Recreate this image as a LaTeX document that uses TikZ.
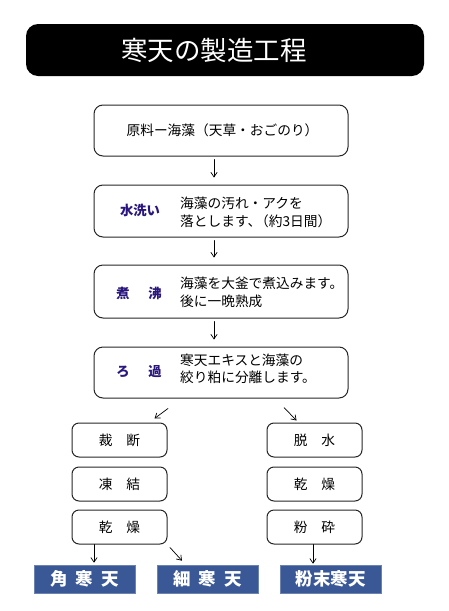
\documentclass[tikz,border=0pt]{standalone}
\usepackage{fontspec}
\setmainfont{Noto Sans CJK JP}
\usetikzlibrary{arrows.meta}
\usepackage{xcolor}
\definecolor{labelnavy}{RGB}{42,22,124}
\definecolor{kanblue}{RGB}{59,88,150}

\begin{document}
\begin{tikzpicture}[x=1pt,y=-1pt,>={Straight Barb[length=1.6mm,width=2.2mm]},line cap=round,
  proc/.style={draw=black!85,line width=1pt,rounded corners=9pt,minimum width=254pt,inner sep=0pt},
  subbox/.style={draw=black!85,line width=1pt,rounded corners=7pt,minimum width=95pt,minimum height=34pt,inner sep=0pt,font=\fontsize{13.7}{16}\selectfont},
  prod/.style={fill=kanblue,draw=kanblue!75!white,line width=0.6pt,minimum width=101pt,minimum height=28pt,inner sep=0pt,text=white,font=\fontsize{17.5}{19}\selectfont\bfseries},
  lab/.style={text=labelnavy,inner sep=0pt,font=\fontsize{13.3}{15}\selectfont\bfseries},
  desc/.style={anchor=west,align=left,inner sep=0pt,font=\fontsize{13.7}{17.5}\selectfont},
  arr/.style={->,line width=0.7pt}]
\useasboundingbox (0,0) rectangle (448,611);

\node[fill=black,rounded corners=12pt,minimum width=398pt,minimum height=52pt] (titlebox) at (225,50) {};
\node[text=white,inner sep=0pt,font=\fontsize{26.5}{28}\selectfont] (titletext) at (214,50) {寒天の製造工程};

\node[proc,minimum height=51pt,font=\fontsize{13.7}{16}\selectfont] (genryo) at (221,130.5) {\hspace*{3pt}原料ー海藻（天草・おごのり）};
\node[proc,minimum height=52pt] (mizuarai) at (221,211) {};
\node[proc,minimum height=53pt] (shafutsu) at (221,291.5) {};
\node[proc,minimum height=51pt] (roka) at (221,372.5) {};

\node[lab] (mizulab) at (140,210) {水洗い};
\node[desc] (mizudesc) at (180,212.5) {海藻の汚れ・アクを\\落とします、\hspace{-0.45em}（約3日間）};
\node[lab] (shalab) at (139,293) {煮\hspace{1.4em}沸};
\node[desc] (shadesc) at (180,292.5) {海藻を大釜で煮込みます。\\後に一晩熟成};
\node[lab] (rokalab) at (139,372) {ろ\hspace{1.4em}過};
\node[desc] (rokadesc) at (180,369) {寒天エキスと海藻の\\絞り粕に分離します。};

\node[subbox] (saidan) at (119.5,440) {裁　断};
\node[subbox] (touketsu) at (119.5,484) {凍　結};
\node[subbox] (kansoL) at (119.5,527) {乾　燥};
\node[subbox] (dassui) at (314.5,440) {脱　水};
\node[subbox] (kansoR) at (314.5,484) {乾　燥};
\node[subbox] (funsai) at (314.5,527) {粉　砕};

\node[prod] (kaku) at (84.5,579) {角\hspace{0.47em}寒\hspace{0.47em}天};
\node[prod] (hoso) at (207.5,579) {細\hspace{0.47em}寒\hspace{0.47em}天};
\node[prod] (funmatsu) at (330.5,579) {粉末寒天};

\draw[arr,shorten <=3pt,shorten >=7pt] ([xshift=-7pt]genryo.south) -- ([xshift=-7pt]mizuarai.north);
\draw[arr,shorten <=3pt,shorten >=7pt] ([xshift=-7pt]mizuarai.south) -- ([xshift=-7pt]shafutsu.north);
\draw[arr,shorten <=3pt,shorten >=7pt] ([xshift=-7pt]shafutsu.south) -- ([xshift=-7pt]roka.north);
\draw[arr] ([shift={(-53,10)}]roka.south) -- ([shift={(35,-4)}]saidan.north);
\draw[arr] ([shift={(63,9)}]roka.south) -- ([shift={(-18,-2)}]dassui.north);
\draw[arr,shorten >=2pt] ([xshift=-25.5pt]kansoL.south) -- ([xshift=9.5pt]kaku.north);
\draw[arr] ([shift={(50.5,3)}]kansoL.south) -- ([shift={(-25.5,-4)}]hoso.north);
\draw[arr,shorten >=1pt] ([xshift=-1.5pt]funsai.south) -- ([xshift=-17.5pt]funmatsu.north);
\end{tikzpicture}
\end{document}
